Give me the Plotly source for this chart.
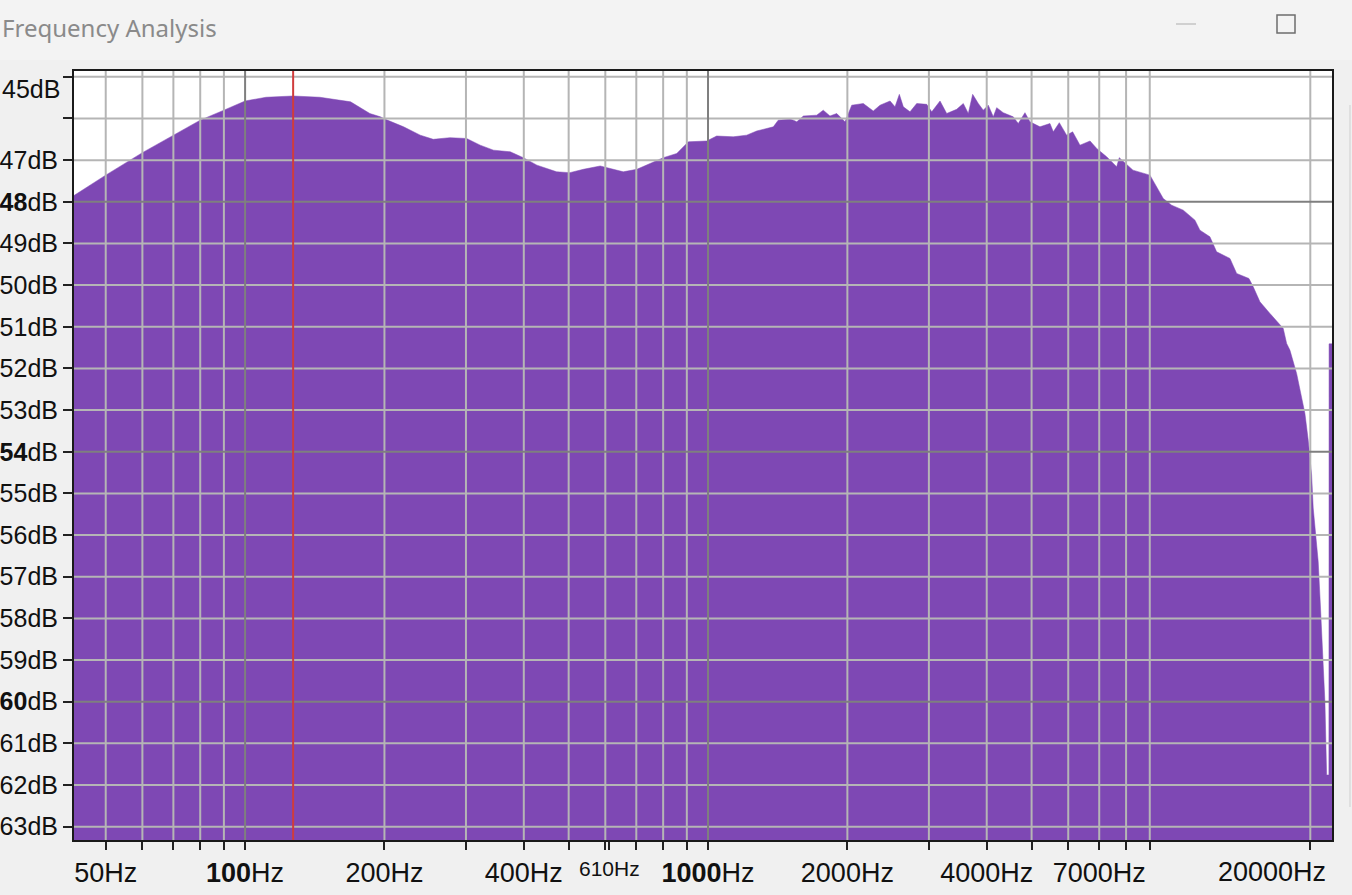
import math

import plotly.graph_objects as go

FREQ_HZ = [
    42, 50, 60, 70, 80, 90, 100, 111, 127, 145, 169, 186, 196, 201, 220, 239,
    255, 277, 301, 322, 344, 374, 399, 427, 471, 503, 538, 585, 614, 656, 702,
    749, 801, 856, 907, 994, 1044, 1134, 1212, 1274, 1384, 1418, 1504, 1529,
    1555, 1607, 1717, 1774, 1834, 1897, 1977, 2044, 2165, 2275, 2353, 2473,
    2535, 2590, 2642, 2731, 2824, 2968, 3043, 3171, 3278, 3445, 3560, 3650,
    3730, 3836, 3932, 4031, 4133, 4203, 4343, 4564, 4679, 4838, 4960, 5213,
    5479, 5570, 5739, 5952, 6133, 6361, 6687, 6913, 7264, 7634, 7733, 8279,
    9008, 9625, 10035, 10631, 11268, 11550, 12139, 12551, 13412, 13867, 14738,
    15057, 15567, 16360, 17198, 17482, 17780, 18071, 18684, 19155, 19472,
    19793, 20133, 20292, 20569, 20803, 21053, 21263, 21509, 21693, 21940,
    21960, 22300,
]
LEVEL_DB = [
    -47.90, -47.36, -46.82, -46.40, -46.04, -45.80, -45.58, -45.49, -45.46,
    -45.49, -45.60, -45.88, -45.96, -46.02, -46.20, -46.40, -46.50, -46.46,
    -46.48, -46.64, -46.76, -46.80, -46.94, -47.12, -47.28, -47.30, -47.22,
    -47.14, -47.20, -47.28, -47.22, -47.08, -46.94, -46.84, -46.56, -46.54,
    -46.42, -46.44, -46.40, -46.30, -46.20, -46.04, -46.02, -46.04, -46.08,
    -45.94, -45.92, -45.80, -45.94, -45.88, -46.08, -45.68, -45.64, -45.82,
    -45.68, -45.58, -45.72, -45.42, -45.72, -45.84, -45.64, -45.66, -45.84,
    -45.58, -45.88, -45.78, -45.64, -45.88, -45.42, -45.64, -45.80, -45.68,
    -45.96, -45.74, -45.86, -45.96, -46.12, -45.86, -46.08, -46.20, -46.12,
    -46.32, -46.10, -46.40, -46.32, -46.64, -46.54, -46.72, -46.92, -47.16,
    -46.94, -47.24, -47.36, -47.92, -48.08, -48.20, -48.44, -48.68, -48.84,
    -49.20, -49.36, -49.72, -49.84, -50.04, -50.40, -50.68, -50.96, -51.04,
    -51.40, -51.56, -52.12, -52.68, -53.08, -53.72, -54.56, -55.35, -56.00,
    -56.64, -57.80, -58.80, -60.00, -61.76, -61.76, -51.41, -51.41,
]

CURSOR_HZ = 127

X_TICKS = [50, 100, 200, 400, 610, 1000, 2000, 4000, 7000, 20000]
X_TICK_TEXT = ['50Hz', '<b>100</b>Hz', '200Hz', '400Hz', '',
               '<b>1000</b>Hz', '2000Hz', '4000Hz', '7000Hz', '']
X_MINOR = [60, 70, 80, 90, 300, 500, 600, 700, 800, 900,
           3000, 5000, 6000, 8000, 9000]
GRID_HZ = [50, 60, 70, 80, 90, 200, 300, 400, 500, 600, 700, 800, 900,
           2000, 3000, 4000, 5000, 6000, 7000, 8000, 9000, 20000]
GRID_HZ_MAJOR = [100, 1000]

Y_TICKS = list(range(-45, -64, -1))
Y_MAJOR = [-48, -54, -60]

PURPLE = '#7e48b4'
GRID = '#b5b5b5'
GRID_DARK = '#7f7f7f'
LABEL_FONT = 'Liberation Sans'

L, R, T, B = 74, 20, 71, 55
W, H = 1352, 895
PW, PH = W - L - R, H - T - B


def px(x):
    return (x - L) / PW


def py(y):
    return (H - B - y) / PH


def vlines(xs):
    xx, yy = [], []
    for x in xs:
        xx += [x, x, None]
        yy += [-70, -40, None]
    return xx, yy


def hlines(ys):
    xx, yy = [], []
    for y in ys:
        xx += [30, 30000, None]
        yy += [y, y, None]
    return xx, yy


fig = go.Figure()

# baseline for the fill, then the spectrum
fig.add_trace(go.Scatter(x=[30, 30000], y=[-70, -70], mode='lines',
                         line=dict(width=0), hoverinfo='skip', showlegend=False))
fig.add_trace(go.Scatter(x=FREQ_HZ, y=LEVEL_DB, mode='lines', fill='tonexty',
                         fillcolor=PURPLE, line=dict(color=PURPLE, width=0.5),
                         showlegend=False))

# grid sits on top of the spectrum in Audacity
light_y = [y for y in Y_TICKS if y not in Y_MAJOR]
for xs_ys, color in [(vlines(GRID_HZ), GRID), (hlines(light_y), GRID),
                     (vlines(GRID_HZ_MAJOR), GRID_DARK), (hlines(Y_MAJOR), GRID_DARK)]:
    fig.add_trace(go.Scatter(x=xs_ys[0], y=xs_ys[1], mode='lines',
                             line=dict(color=color, width=2),
                             hoverinfo='skip', showlegend=False))

fig.add_trace(go.Scatter(x=[CURSOR_HZ, CURSOR_HZ], y=[-70, -40], mode='lines',
                         line=dict(color='#d03c3c', width=2),
                         hoverinfo='skip', showlegend=False))

y_text = []
for y in Y_TICKS:
    if y in (-45, -46):
        y_text.append('')
    elif y in Y_MAJOR:
        y_text.append('<b>%d</b>dB' % -y)
    else:
        y_text.append('%ddB' % -y)

fig.update_xaxes(type='log', range=[math.log10(42.7), math.log10(22280)],
                 tickmode='array', tickvals=X_TICKS, ticktext=X_TICK_TEXT,
                 ticks='outside', ticklen=8, tickwidth=2, tickcolor='#222',
                 minor=dict(tickmode='array', tickvals=X_MINOR, ticks='outside',
                            ticklen=8, tickwidth=2, tickcolor='#222', showgrid=False),
                 showgrid=False, zeroline=False, automargin=False,
                 ticklabeloverflow='allow',
                 showline=True, mirror=True, linecolor='#1a1a1a', linewidth=2,
                 tickfont=dict(family=LABEL_FONT, size=27, color='#111'))
fig.update_yaxes(range=[-63.32, -44.86], tickmode='array', tickvals=Y_TICKS,
                 ticktext=y_text, ticks='outside', ticklen=9, tickwidth=2,
                 tickcolor='#222', showgrid=False, zeroline=False, automargin=False,
                 ticklabeloverflow='allow',
                 showline=True, mirror=True, linecolor='#1a1a1a', linewidth=2,
                 tickfont=dict(family=LABEL_FONT, size=25, color='#111'))

annotations = [
    # Audacity nudges the end labels inwards
    dict(x=px(62), y=-45.3, xref='paper', yref='y', text='45dB', showarrow=False,
         xanchor='right', yanchor='middle',
         font=dict(family=LABEL_FONT, size=25, color='#111')),
    dict(x=px(1328), y=py(872), xref='paper', yref='paper', text='20000Hz',
         showarrow=False, xanchor='right', yanchor='middle',
         font=dict(family=LABEL_FONT, size=27, color='#111')),
    dict(x=px(609), y=py(868), xref='paper', yref='paper', text='610Hz',
         showarrow=False, xanchor='center', yanchor='middle',
         font=dict(family=LABEL_FONT, size=21, color='#111')),
    dict(x=px(0), y=py(27), xref='paper', yref='paper', text='Frequency Analysis',
         showarrow=False, xanchor='left', yanchor='middle',
         font=dict(family='Noto Sans', size=24, color='#8a8a8a')),
]

shapes = [
    dict(type='rect', xref='paper', yref='paper', x0=px(0), x1=px(W), y0=py(60), y1=py(0),
         fillcolor='#f3f3f3', line=dict(width=0), layer='below'),
    dict(type='line', xref='paper', yref='paper', x0=px(1176), x1=px(1196),
         y0=py(24), y1=py(24), line=dict(color='#c4c4c4', width=1.5)),
    dict(type='rect', xref='paper', yref='paper', x0=px(1277), x1=px(1295),
         y0=py(33), y1=py(15), line=dict(color='#6e6e6e', width=1.5)),
    dict(type='line', xref='paper', yref='paper', x0=px(1350), x1=px(1350),
         y0=py(105), y1=py(807), line=dict(color='#cfcfcf', width=1)),
]

fig.update_layout(width=W, height=H, margin=dict(l=L, r=R, t=T, b=B),
                  paper_bgcolor='#f0f0f0', plot_bgcolor='white',
                  annotations=annotations, shapes=shapes, showlegend=False)

fig.write_html('out.html', config={'displayModeBar': False},
               post_script="document.body.style.margin='0';")
